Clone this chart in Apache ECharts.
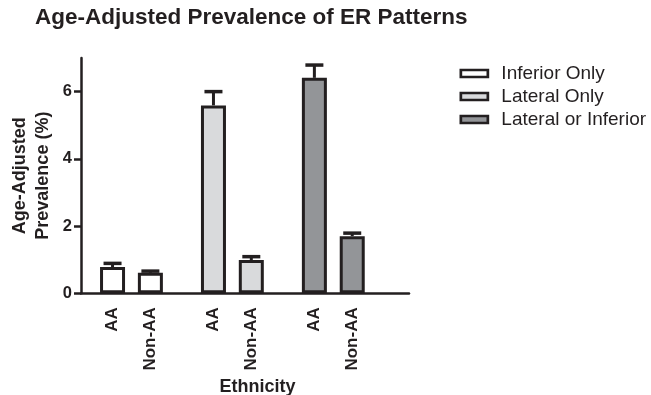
<!DOCTYPE html>
<html><head><meta charset="utf-8">
<script src="https://cdn.jsdelivr.net/npm/echarts@6/dist/echarts.min.js"></script>
<style>html,body{margin:0;padding:0;background:#fff}#c{width:651px;height:395px}</style>
</head><body><div id="c"></div>
<script>
const titleText = 'Age-Adjusted Prevalence of ER Patterns';
const groups = ['Inferior Only', 'Lateral Only', 'Lateral or Inferior'];
const ethnicities = ['AA', 'Non-AA'];
const inferiorOnly = [0.78, 0.61];
const lateralOnly = [5.59, 0.99];
const lateralOrInferior = [6.41, 1.70];
const inferiorOnlyErr = [0.11, 0.05];
const lateralOnlyErr = [0.41, 0.10];
const lateralOrInferiorErr = [0.38, 0.09];
const yTicks = [0, 2, 4, 6];
const xAxisTitle = 'Ethnicity';
const yAxisTitle = 'Age-Adjusted\nPrevalence (%)';

const values = [inferiorOnly, lateralOnly, lateralOrInferior];
const errs = [inferiorOnlyErr, lateralOnlyErr, lateralOrInferiorErr];
const colors = ['#ffffff', '#d9dadc', '#939598'];
const ink = '#231f20';
const font = "'Liberation Sans', Arial, Helvetica, sans-serif";

// category slots: each group uses 8 slots, bars on slots 2 and 5, plus 2 trailing slots
const slotsPerGroup = 8, barSlots = [2, 5], trailing = 2;
const categories = [];
const slotIndex = []; // slotIndex[g][e]
groups.forEach((g, gi) => {
  slotIndex.push([]);
  for (let s = 0; s < slotsPerGroup; s++) {
    const e = barSlots.indexOf(s);
    if (e >= 0) { slotIndex[gi][e] = categories.length; categories.push(g + '|' + ethnicities[e]); }
    else categories.push('gap' + categories.length);
  }
});
for (let t = 0; t < trailing; t++) categories.push('gap' + categories.length);

const isLabel = (i, v) => !String(v).startsWith('gap');

const barSeries = groups.map((g, gi) => {
  const data = categories.map(() => '-');
  ethnicities.forEach((e, ei) => { data[slotIndex[gi][ei]] = values[gi][ei]; });
  return {
    name: g, type: 'bar', data, barWidth: 25, barGap: '-100%',
    itemStyle: { color: colors[gi], borderColor: ink, borderWidth: 3 },
    z: 2
  };
});

const errData = [];
groups.forEach((g, gi) => ethnicities.forEach((e, ei) => {
  errData.push([slotIndex[gi][ei], values[gi][ei], values[gi][ei] + errs[gi][ei]]);
}));

const errSeries = {
  name: 'error', type: 'custom', data: errData, z: 3,
  encode: { x: 0, y: [1, 2] },
  renderItem(params, api) {
    const x = api.value(0), v = api.value(1), u = api.value(2);
    const p0 = api.coord([x, v]), p1 = api.coord([x, u]);
    const half = 9;
    return { type: 'group', children: [
      { type: 'line', shape: { x1: p0[0], y1: p0[1], x2: p1[0], y2: p1[1] }, style: { stroke: ink, lineWidth: 3 } },
      { type: 'line', shape: { x1: p1[0] - half, y1: p1[1], x2: p1[0] + half, y2: p1[1] }, style: { stroke: ink, lineWidth: 3.5 } }
    ] };
  }
};

const chart = echarts.init(document.getElementById('c'));
chart.setOption({
  animation: false,
  backgroundColor: '#fff',
  textStyle: { fontFamily: font },
  title: {
    text: titleText, left: 35, top: 6, padding: 0,
    textStyle: { fontSize: 22.5, fontWeight: 'bold', color: ink, fontFamily: font }
  },
  legend: {
    orient: 'vertical', left: 459.5, top: 64, padding: 0, itemWidth: 27, itemHeight: 7, itemGap: 4,
    icon: 'rect', data: groups, selectedMode: false,
    itemStyle: { borderWidth: 2.7, borderColor: ink },
    textStyle: { fontSize: 19, color: ink, fontFamily: font, padding: [0, 0, 0, 8.5] }
  },
  grid: { left: 81, top: 58, width: 328, bottom: 101.7, containLabel: false, outerBoundsMode: 'none' },
  xAxis: {
    type: 'category', data: categories,
    axisLine: { lineStyle: { color: ink, width: 2.5 } },
    axisTick: { alignWithLabel: true, interval: isLabel, length: 7, lineStyle: { color: ink, width: 2.5 } },
    axisLabel: {
      interval: isLabel, rotate: 90, margin: 14,
      formatter: v => isLabel(0, v) ? v.split('|')[1] : '',
      fontSize: 17, fontWeight: 'bold', color: ink, fontFamily: font
    },
    name: xAxisTitle, nameLocation: 'middle', nameGap: 82,
    nameTextStyle: { fontSize: 18, fontWeight: 'bold', color: ink, fontFamily: font, padding: [0, 0, 0, 25] }
  },
  yAxis: {
    type: 'value', min: 0, max: 7,
    axisLine: { show: true, lineStyle: { color: ink, width: 2.5 } },
    axisTick: { show: true, length: 7, customValues: yTicks, lineStyle: { color: ink, width: 2.5 } },
    axisLabel: { customValues: yTicks, fontSize: 16.5, fontWeight: 'bold', color: ink, margin: 9, fontFamily: font },
    splitLine: { show: false },
    name: yAxisTitle, nameLocation: 'middle', nameGap: 26.5, nameMoveOverlap: false,
    nameTextStyle: { fontSize: 18, fontWeight: 'bold', lineHeight: 23, color: ink, fontFamily: font }
  },
  series: [...barSeries, errSeries]
});
</script></body></html>
